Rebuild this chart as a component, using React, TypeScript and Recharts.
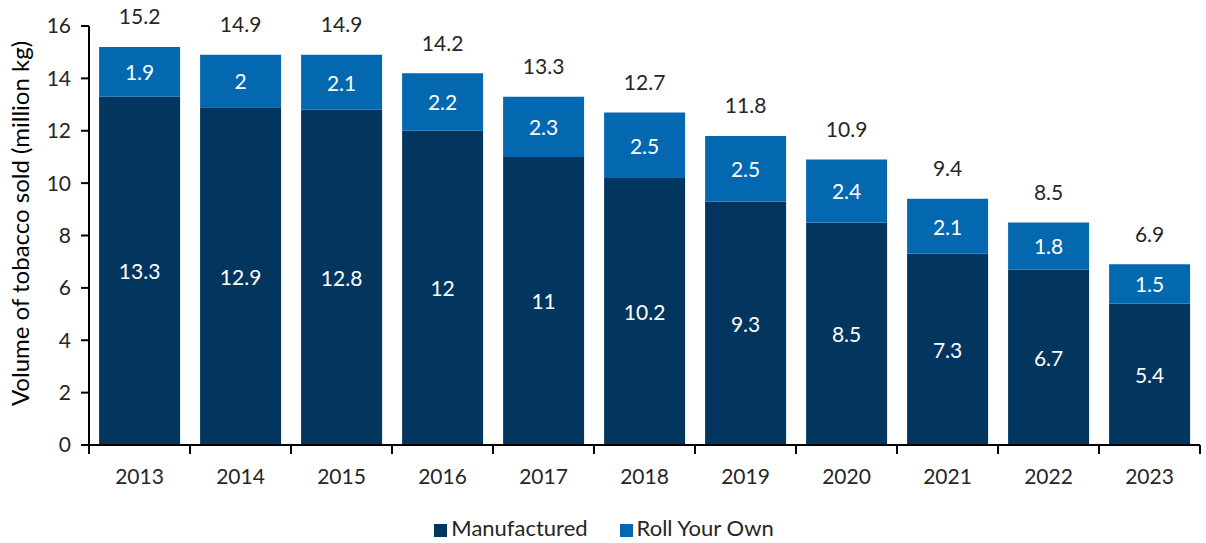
import React from 'react';
import { BarChart, Bar, XAxis, YAxis, Legend, LabelList } from 'recharts';

const years = ['2013', '2014', '2015', '2016', '2017', '2018', '2019', '2020', '2021', '2022', '2023'];
const manufactured = [13.3, 12.9, 12.8, 12, 11, 10.2, 9.3, 8.5, 7.3, 6.7, 5.4];
const rollYourOwn = [1.9, 2, 2.1, 2.2, 2.3, 2.5, 2.5, 2.4, 2.1, 1.8, 1.5];
const totals = [15.2, 14.9, 14.9, 14.2, 13.3, 12.7, 11.8, 10.9, 9.4, 8.5, 6.9];
const yTicks = [0, 2, 4, 6, 8, 10, 12, 14, 16];

const data = years.map((y, i) => ({
  year: y,
  manufactured: manufactured[i],
  rollYourOwn: rollYourOwn[i],
  total: totals[i],
}));

const FONT = 'Lato, "Open Sans", sans-serif';
const FS = 21;
const DARK = '#03365F';
const LIGHT = '#0468B1';
const W = 1206;
const H = 543;
const LEFT = 89;
const RIGHT = 6;
const BAND = (W - LEFT - RIGHT) / years.length;

const XTick = (props: any) => {
  const { x, y, payload, index } = props;
  const isLast = index === years.length - 1;
  return (
    <g>
      <line x1={x - BAND / 2} x2={x - BAND / 2} y1={y - 8} y2={y + 1} stroke="#000" strokeWidth={2} />
      {isLast && <line x1={x + BAND / 2} x2={x + BAND / 2} y1={y - 8} y2={y + 1} stroke="#000" strokeWidth={2} />}
      <text x={x} y={y + 31} textAnchor="middle" fill="#262626" fontSize={FS} fontFamily={FONT}>
        {payload.value}
      </text>
    </g>
  );
};

const TotalLabel = (props: any) => {
  const { x, y, width, index } = props;
  return (
    <text x={x + width / 2} y={y - 31} textAnchor="middle" dominantBaseline="central" fill="#262626" fontSize={FS} fontFamily={FONT}>
      {totals[index]}
    </text>
  );
};

const InnerLabel = (props: any) => {
  const { x, y, width, height, value } = props;
  return (
    <text x={x + width / 2} y={y + height / 2} textAnchor="middle" dominantBaseline="central" fill="#fff" fontSize={FS} fontFamily={FONT}>
      {value}
    </text>
  );
};

const YLabel = (props: any) => {
  const { viewBox } = props;
  const cy = viewBox.y + viewBox.height / 2 - 12;
  const cx = 19;
  return (
    <text
      x={cx}
      y={cy}
      transform={`rotate(-90, ${cx}, ${cy})`}
      textAnchor="middle"
      dominantBaseline="central"
      fill="#000"
      fontSize={24}
      fontFamily={FONT}
    >
      Volume of tobacco sold (million kg)
    </text>
  );
};

export default function App() {
  return (
    <div style={{ position: 'absolute', left: 0, top: 0, background: '#fff' }}>
      <BarChart
        width={W}
        height={H}
        data={data}
        margin={{ top: 26, right: RIGHT, bottom: 0, left: 0 }}
        barCategoryGap="10%"
      >
        <XAxis
          dataKey="year"
          axisLine={{ stroke: '#000', strokeWidth: 2 }}
          tickLine={false}
          tick={<XTick />}
          height={50}
          interval={0}
        />
        <YAxis
          domain={[0, 16]}
          ticks={yTicks}
          width={LEFT}
          axisLine={{ stroke: '#000', strokeWidth: 2 }}
          tickLine={{ stroke: '#000', strokeWidth: 2 }}
          tickSize={8}
          tickMargin={10}
          tick={{ fill: '#262626', fontSize: FS, fontFamily: FONT }}
          label={<YLabel />}
        />
        <Legend
          verticalAlign="bottom"
          align="center"
          iconType="square"
          iconSize={13}
          height={38}
          wrapperStyle={{ fontFamily: FONT, fontSize: 22, paddingTop: 10, left: 20, bottom: -9 }}
          formatter={(v: string) => <span style={{ color: '#262626', marginRight: 22 }}>{v}</span>}
        />
        <Bar dataKey="manufactured" name="Manufactured" stackId="a" fill={DARK} isAnimationActive={false}>
          <LabelList dataKey="manufactured" content={<InnerLabel />} />
        </Bar>
        <Bar dataKey="rollYourOwn" name="Roll Your Own" stackId="a" fill={LIGHT} isAnimationActive={false}>
          <LabelList dataKey="rollYourOwn" content={<InnerLabel />} />
          <LabelList dataKey="total" content={<TotalLabel />} />
        </Bar>
      </BarChart>
    </div>
  );
}
